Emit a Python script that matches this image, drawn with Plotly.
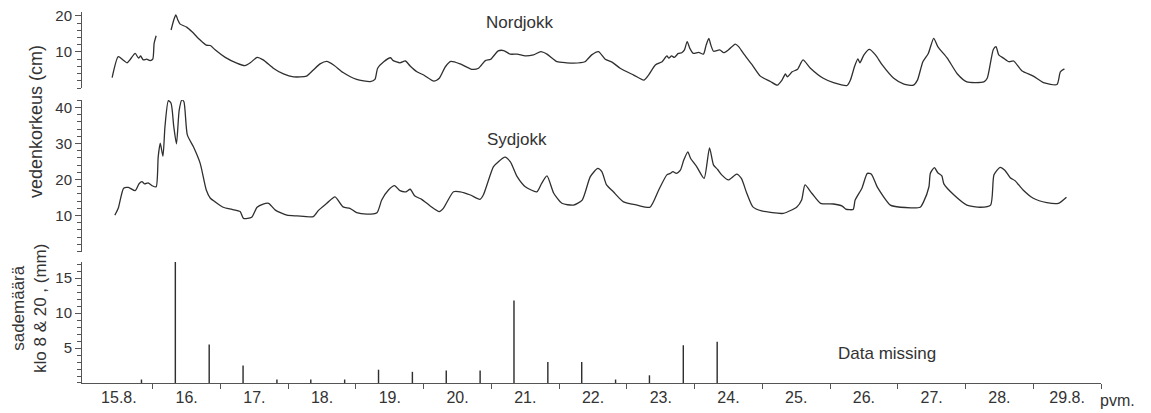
import plotly.graph_objects as go

# ---- data (day of August, fractional) ----
nord_day = [15.40, 15.49, 15.56, 15.62, 15.67, 15.74, 15.79, 15.82, 15.86, 15.91, 15.96, 16.00, 16.02, 16.05,
            16.16,
            16.27, 16.31, 16.34, 16.37, 16.40, 16.50, 16.58, 16.70, 16.79, 16.85, 16.92, 17.07, 17.24, 17.36,
            17.44, 17.54, 17.63, 17.78, 17.93, 18.08, 18.27, 18.37, 18.47, 18.57, 18.67, 18.81, 19.01, 19.21,
            19.28, 19.32, 19.41, 19.51, 19.55, 19.65, 19.73, 19.80, 19.90, 20.00, 20.15, 20.23, 20.32, 20.40,
            20.54, 20.71, 20.81, 20.91, 20.99, 21.10, 21.18, 21.28, 21.38, 21.50, 21.62, 21.73, 21.82, 21.97,
            22.11, 22.21, 22.38, 22.48, 22.58, 22.68, 22.78, 22.90, 23.10, 23.25, 23.32, 23.42, 23.52, 23.59,
            23.62, 23.66, 23.70, 23.76, 23.81, 23.85, 23.89, 23.93, 23.98, 24.06, 24.13, 24.17, 24.21, 24.24,
            24.28, 24.37, 24.43, 24.50, 24.60, 24.65, 24.72, 24.85, 24.97, 25.12, 25.22, 25.29, 25.34, 25.37,
            25.44, 25.52, 25.60, 25.71, 25.90, 26.05, 26.25, 26.30, 26.36, 26.41, 26.44, 26.50, 26.58, 26.67,
            26.77, 26.94, 27.09, 27.23, 27.29, 27.37, 27.45, 27.53, 27.59, 27.73, 27.88, 28.02, 28.27, 28.32,
            28.41, 28.45, 28.49, 28.56, 28.64, 28.71, 28.83, 29.00, 29.15, 29.35, 29.40, 29.46]
nord_level = [2.9, 8.7, 7.8, 7.0, 8.0, 9.6, 8.3, 8.9, 7.8, 8.0, 7.6, 8.0, 12.4, 14.5,
              None,
              16.1, 18.9, 20.3, 18.9, 17.8, 16.9, 15.6, 13.3, 11.9, 11.8, 10.6, 8.5, 6.9, 6.2,
              7.0, 8.5, 7.8, 5.5, 3.9, 3.1, 3.3, 5.0, 6.7, 7.4, 6.4, 4.3, 2.4, 1.8,
              2.4, 5.5, 7.3, 8.4, 7.6, 7.0, 7.5, 6.1, 4.5, 3.6, 1.9, 2.7, 5.9, 7.4,
              6.7, 5.2, 5.5, 7.6, 8.0, 10.3, 10.4, 9.4, 9.4, 8.9, 9.2, 10.1, 9.4, 7.3,
              7.0, 6.9, 7.3, 9.2, 10.1, 8.0, 7.2, 5.5, 3.6, 2.2, 3.6, 6.4, 7.3, 8.9,
              8.3, 8.9, 8.5, 9.6, 9.8, 10.6, 12.9, 11.0, 9.6, 9.9, 9.4, 11.9, 13.8, 11.9,
              10.2, 10.6, 9.8, 10.6, 12.2, 11.5, 9.6, 6.4, 3.3, 1.8, 0.8, 2.2, 3.9, 3.1,
              4.5, 5.2, 7.8, 5.5, 2.7, 1.5, 0.7, 2.2, 5.9, 8.1, 7.0, 9.2, 10.7, 9.2,
              6.4, 2.7, 1.1, 0.8, 2.2, 7.3, 9.6, 13.8, 11.5, 8.3, 3.9, 1.7, 1.7, 2.7,
              10.7, 11.5, 9.2, 8.3, 7.3, 7.5, 4.8, 3.3, 1.5, 1.0, 4.5, 5.3]

syd_day = [15.44, 15.49, 15.57, 15.64, 15.74, 15.80, 15.84, 15.88, 15.93, 16.00, 16.05, 16.08, 16.11, 16.15,
           16.18, 16.23, 16.27, 16.31, 16.35, 16.39, 16.43, 16.46, 16.51, 16.60, 16.70, 16.79, 16.85, 16.92,
           17.04, 17.17, 17.29, 17.34, 17.46, 17.54, 17.63, 17.71, 17.81, 17.98, 18.13, 18.37, 18.45, 18.57,
           18.69, 18.81, 18.91, 19.01, 19.16, 19.31, 19.38, 19.48, 19.57, 19.65, 19.74, 19.80, 19.87, 19.97,
           20.10, 20.23, 20.29, 20.44, 20.54, 20.69, 20.83, 20.88, 21.03, 21.10, 21.20, 21.28, 21.38, 21.50,
           21.67, 21.74, 21.82, 21.92, 22.04, 22.21, 22.34, 22.46, 22.57, 22.63, 22.70, 22.80, 22.95, 23.15,
           23.34, 23.47, 23.59, 23.64, 23.68, 23.73, 23.79, 23.84, 23.90, 23.94, 24.03, 24.14, 24.22, 24.28,
           24.34, 24.40, 24.50, 24.62, 24.69, 24.77, 24.86, 24.99, 25.31, 25.51, 25.58, 25.63, 25.73, 25.86,
           26.05, 26.18, 26.23, 26.34, 26.37, 26.47, 26.55, 26.61, 26.70, 26.89, 27.04, 27.33, 27.38, 27.46,
           27.48, 27.54, 27.59, 27.65, 27.68, 27.83, 28.02, 28.22, 28.37, 28.42, 28.51, 28.58, 28.66, 28.73,
           28.85, 29.00, 29.20, 29.37, 29.49]
syd_level = [10.1, 12.0, 17.6, 17.8, 16.9, 18.9, 19.4, 18.8, 19.1, 18.2, 18.0, 26.3, 30.1, 26.5,
             34.7, 41.9, 41.2, 34.7, 29.9, 39.3, 42.1, 41.6, 32.4, 29.1, 24.5, 17.1, 14.8, 13.8,
             12.3, 11.7, 11.1, 9.2, 9.5, 12.3, 13.2, 13.4, 11.5, 10.1, 9.9, 9.7, 11.5, 13.4,
             15.2, 12.4, 12.0, 10.8, 10.4, 10.8, 14.3, 17.1, 18.3, 16.9, 16.6, 17.3, 15.4, 14.5,
             12.6, 11.1, 12.0, 16.6, 16.6, 15.7, 14.5, 15.7, 23.6, 24.9, 26.2, 24.9, 20.8, 18.0,
             16.6, 18.9, 21.0, 16.2, 13.4, 12.9, 14.3, 20.8, 23.1, 22.2, 18.5, 16.6, 13.8, 12.9,
             12.3, 17.1, 21.3, 21.7, 22.2, 21.7, 22.6, 25.4, 27.7, 25.9, 23.6, 20.3, 28.8, 24.0,
             22.8, 21.3, 19.9, 21.5, 20.3, 16.2, 12.4, 11.3, 10.6, 12.4, 14.3, 18.5, 16.2, 13.4,
             13.2, 12.6, 11.8, 11.7, 14.3, 17.6, 21.7, 21.5, 17.8, 12.9, 12.3, 12.3, 13.8, 18.0,
             21.7, 23.3, 21.9, 21.0, 18.8, 15.7, 12.9, 12.3, 12.9, 21.3, 23.4, 22.6, 20.5, 19.7,
             17.1, 14.8, 13.6, 13.4, 15.1]

rain_day = [15.833, 16.333, 16.833, 17.333, 17.833, 18.333, 18.833, 19.333, 19.833, 20.333, 20.833,
            21.333, 21.833, 22.333, 22.833, 23.333, 23.833, 24.333]
rain_mm = [0.4, 17.9, 5.4, 2.4, 0.4, 0.4, 0.4, 1.8, 1.5, 1.7, 1.7,
           11.7, 2.9, 2.9, 0.4, 1.0, 5.3, 5.8]

day_label_pos = [15.5, 16.5, 17.5, 18.5, 19.5, 20.5, 21.5, 22.5, 23.5, 24.5, 25.5, 26.5, 27.5, 28.5, 29.5]
day_labels = ["15.8.", "16.", "17.", "18.", "19.", "20.", "21.", "22.", "23.", "24.", "25.", "26.",
              "27.", "28.", "29.8."]
day_ticks = [16, 17, 18, 19, 20, 21, 22, 23, 24, 25, 26, 27, 28, 29, 30]

INK = "#2f2f2f"
FONT = "Liberation Sans, Arial, sans-serif"

fig = go.Figure()
fig.add_trace(go.Scatter(x=nord_day, y=nord_level, mode="lines", connectgaps=False,
                         line=dict(color=INK, width=1.3, shape="spline", smoothing=0.6),
                         xaxis="x", yaxis="y3", showlegend=False, hoverinfo="skip"))
fig.add_trace(go.Scatter(x=syd_day, y=syd_level, mode="lines",
                         line=dict(color=INK, width=1.3, shape="spline", smoothing=0.6),
                         xaxis="x2", yaxis="y2", showlegend=False, hoverinfo="skip"))
fig.add_trace(go.Bar(x=rain_day, y=rain_mm, width=0.0005,
                     marker=dict(color=INK, line=dict(width=1.4, color=INK)),
                     cliponaxis=False, xaxis="x3", yaxis="y", showlegend=False, hoverinfo="skip"))

xr = [14.955, 30.0]
tickfont = dict(family=FONT, size=15, color="#333")
common_y = dict(showline=True, linecolor="#555", linewidth=1, ticks="outside", ticklen=6,
                tickcolor="#555", tickfont=tickfont, showgrid=False, zeroline=False, fixedrange=True,
                automargin=False)
minor_y = lambda d: dict(ticks="outside", ticklen=4, tickcolor="#555", dtick=d, tick0=0, showgrid=False)

fig.update_layout(
    width=1151, height=413, autosize=False,
    margin=dict(l=82, r=50, t=12, b=30, autoexpand=False),
    paper_bgcolor="white", plot_bgcolor="white",
    bargap=0, hovermode=False,
    xaxis=dict(domain=[0, 1], range=xr, visible=False, anchor="y3", fixedrange=True),
    xaxis2=dict(domain=[0, 1], range=xr, visible=False, anchor="y2", fixedrange=True),
    xaxis3=dict(domain=[0, 1], range=xr, anchor="y", showline=True, linecolor="#555", linewidth=1,
                tickmode="array", tickvals=day_label_pos, ticktext=day_labels, ticks="", ticklen=0,
                tickfont=dict(family=FONT, size=16, color="#333"), showgrid=False, zeroline=False,
                automargin=False, fixedrange=True,
                minor=dict(tickmode="array", tickvals=day_ticks, ticks="outside", ticklen=5,
                           tickcolor="#555", showgrid=False)),
    yaxis3=dict(domain=[0.7951, 1.0], range=[0, 21.1], anchor="x", tickvals=[10, 20],
                minor=minor_y(2), **common_y),
    yaxis2=dict(domain=[0.3544, 0.7628], range=[0, 42.1], anchor="x2", tickvals=[10, 20, 30, 40],
                minor=minor_y(2), **common_y),
    yaxis=dict(domain=[0, 0.3261], range=[0, 17.3], anchor="x3", tickvals=[5, 10, 15],
               minor=minor_y(1), **common_y),
)

anns = [
    dict(text="Nordjokk", px=520, py=23, angle=0, size=17),
    dict(text="Sydjokk", px=517, py=139, angle=0, size=17),
    dict(text="Data missing", px=887, py=353, angle=0, size=17),
    dict(text="pvm.", px=1117, py=400, angle=0, size=16),
    dict(text="vedenkorkeus (cm)", px=36, py=122, angle=-90, size=18),
    dict(text="sademäärä<br>klo 8 & 20 , (mm)", px=29, py=309, angle=-90, size=17),
]
W, H = 1151 - 82 - 50, 413 - 12 - 30
for a in anns:
    fig.add_annotation(text=a["text"], textangle=a["angle"],
                       x=(a["px"] - 82) / W, y=(413 - 30 - a["py"]) / H,
                       xref="paper", yref="paper", xanchor="center", yanchor="middle",
                       showarrow=False, font=dict(family=FONT, size=a["size"], color="#333"))

fig.write_html("out.html", config={"displayModeBar": False, "staticPlot": True},
               post_script="document.body.style.margin='0';document.body.style.overflow='hidden';")
